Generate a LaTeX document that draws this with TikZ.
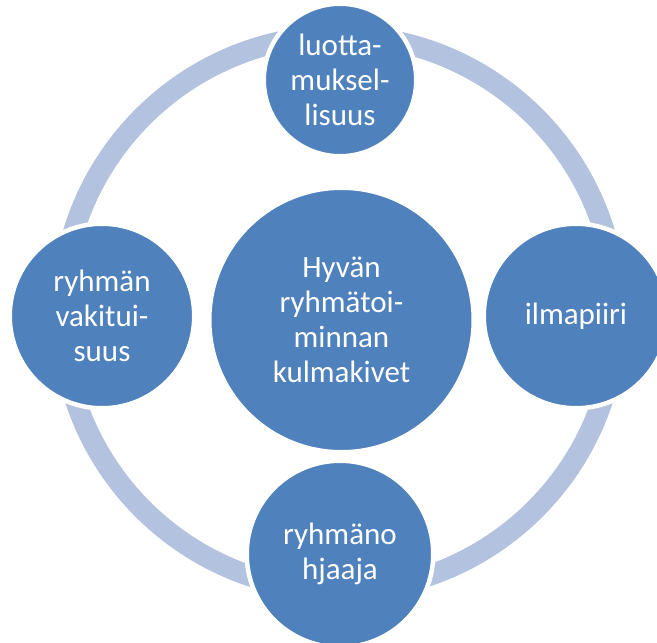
\documentclass[tikz,border=0pt]{standalone}
\usepackage{fontspec}
\setmainfont{Carlito}
\definecolor{nodeblue}{HTML}{4F81BD}
\definecolor{ringblue}{HTML}{B3C2DE}
\begin{document}
\begin{tikzpicture}[x=1pt,y=-1pt,
  bub/.style={circle, fill=nodeblue, draw=white, line width=4.5pt, inner sep=0pt},
  lbl/.style={text=white, font=\fontsize{31}{35}\selectfont, align=center, inner sep=0pt}]
\useasboundingbox (0,0) rectangle (657,643);
\coordinate (o) at (339,313);
\draw[ringblue, line width=21pt] (o) circle[radius=277.5pt];
\node[bub, minimum size=264.5pt] (hub) at (341.5,320) {};
\node[bub, minimum size=152.5pt] (top) at (340,80) {};
\node[bub, minimum size=184.5pt] (left) at (102,316) {};
\node[bub, minimum size=184.5pt] (right) at (576,316) {};
\node[bub, minimum size=186.5pt] (bottom) at (340,554) {};
\node[lbl] (hubt) at (hub) {Hyvän\\ryhmätoi-\\minnan\\kulmakivet};
\node[lbl] (topt) at (top) {luotta-\\muksel-\\lisuus};
\node[lbl] (leftt) at (left) {ryhmän\\vakitui-\\suus};
\node[lbl] (rightt) at (right) {ilmapiiri};
\node[lbl] (bottomt) at (bottom) {ryhmäno\\hjaaja};
\end{tikzpicture}
\end{document}
